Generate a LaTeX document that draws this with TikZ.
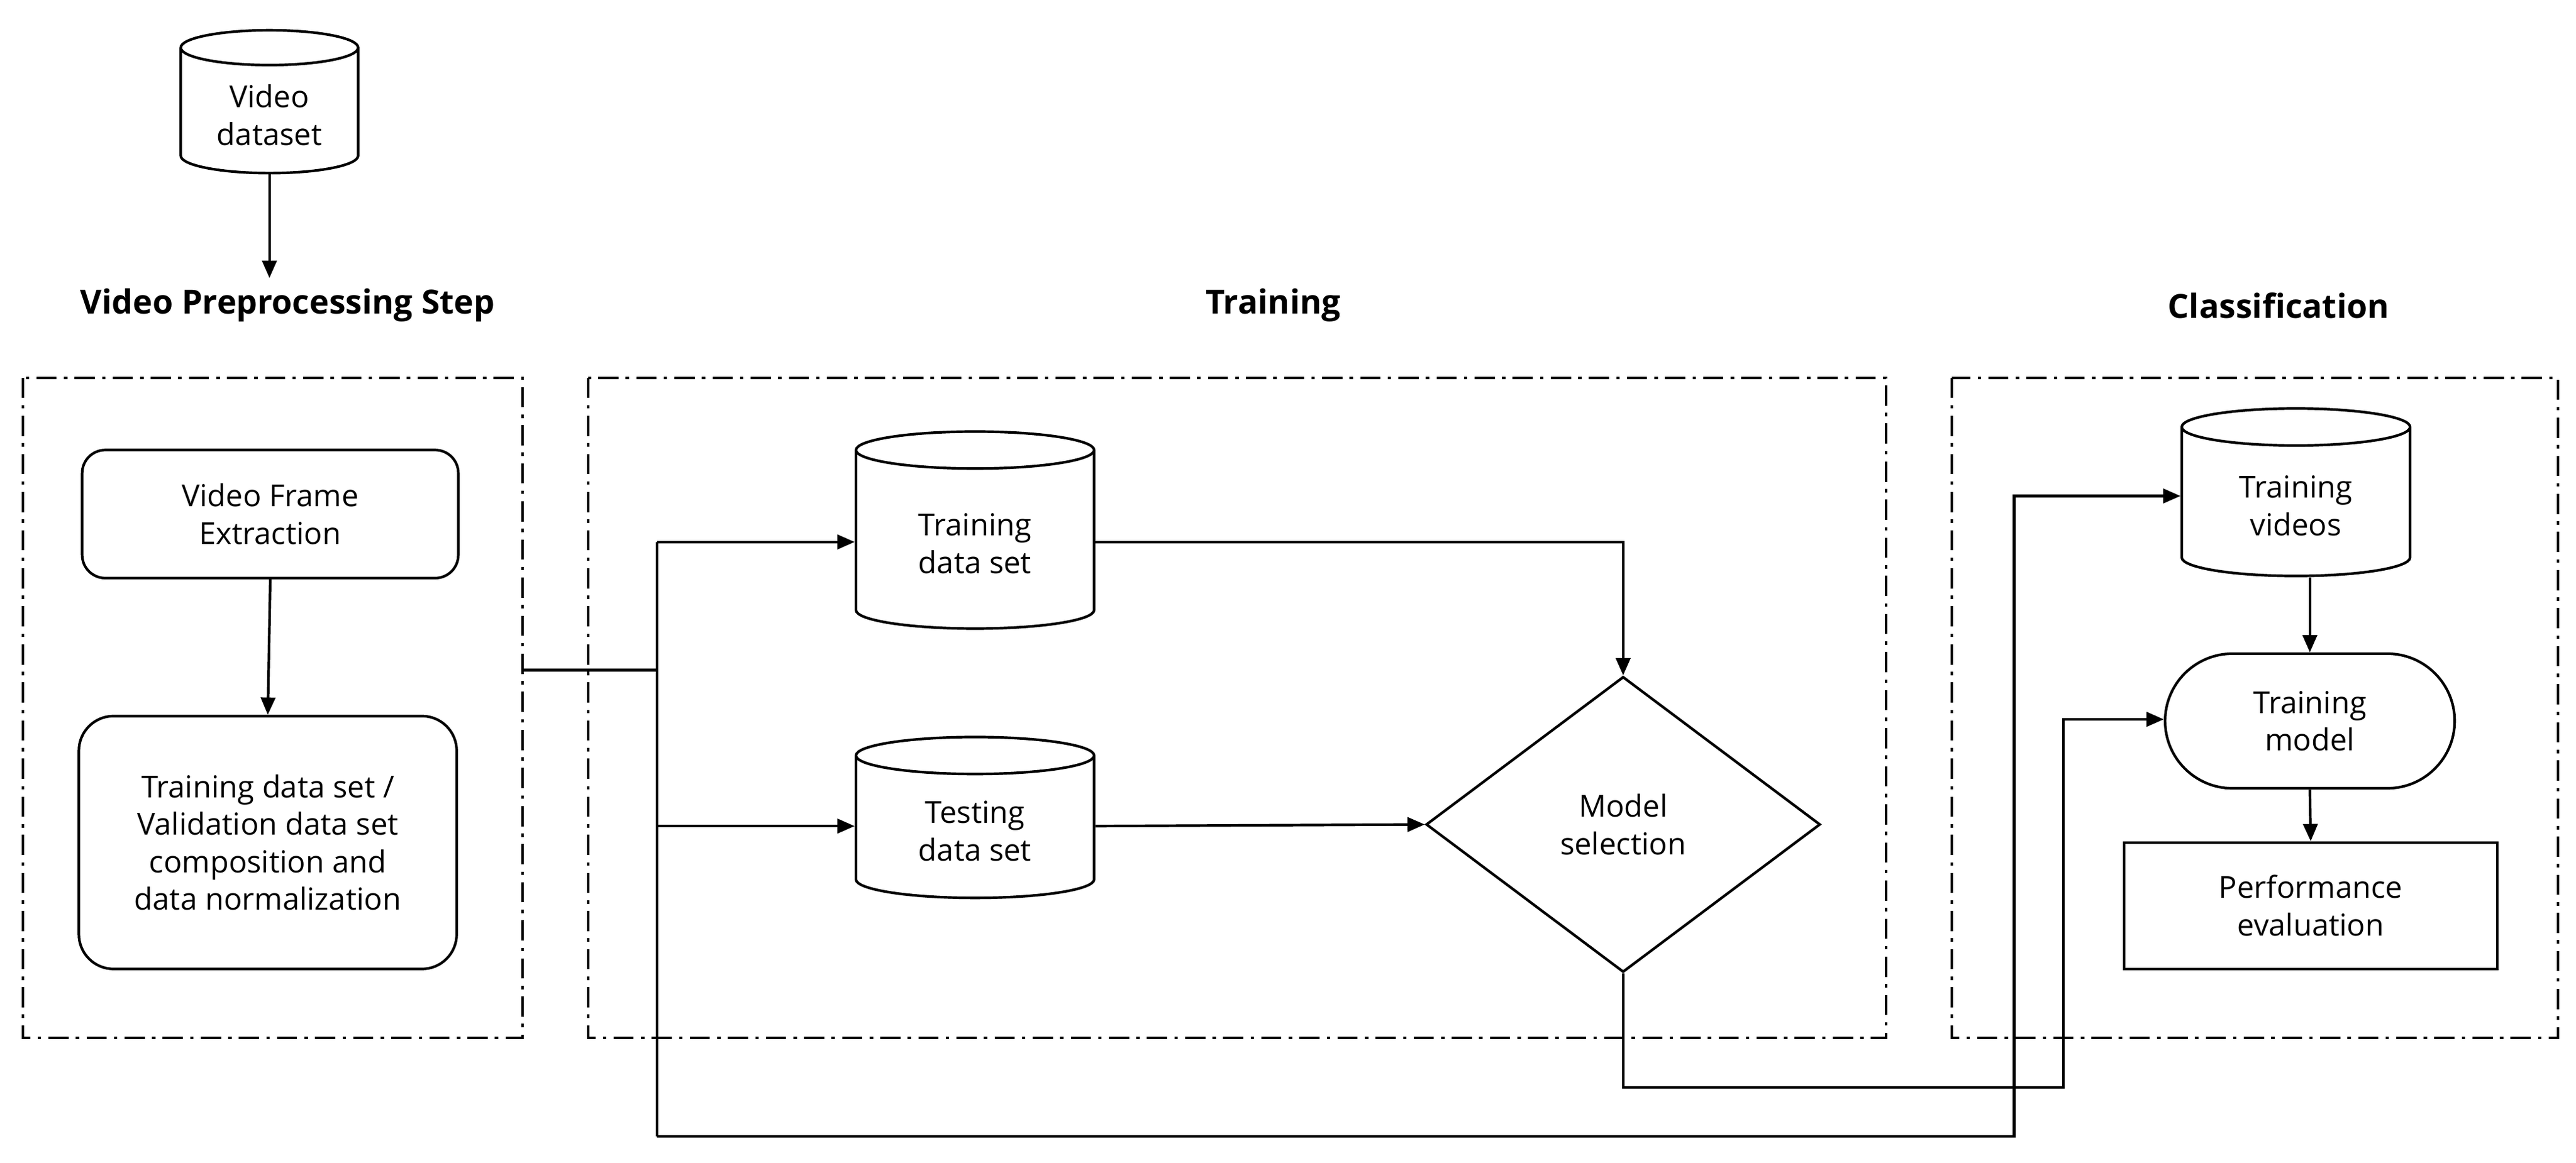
\documentclass[tikz,border=0pt]{standalone}
\usepackage{fontspec}
\setmainfont{Open Sans}
\usetikzlibrary{shapes.geometric,shapes.misc,arrows.meta}
\begin{document}
\begin{tikzpicture}[x=0.02cm,y=-0.02cm,font=\fontsize{10.5}{13}\selectfont,
  line width=0.9pt,
  >={Triangle[length=6pt,width=5pt]},
  db/.style={draw,cylinder,shape border rotate=90,aspect=0.28,align=center,minimum width=#1},
  rbox/.style={draw,rounded corners=8pt,align=center},
  grp/.style={draw,line width=0.8pt,dash pattern=on 7pt off 2.5pt on 1.2pt off 2.5pt},
  ttl/.style={font=\fontsize{11.5}{14}\selectfont\bfseries}]
\useasboundingbox (0,0) rectangle (1568,708);
\node[db=2.16cm,minimum height=1.74cm] (vd) at (164,70) {Video\\dataset};
\node[ttl] (t1) at (175,186) {Video Preprocessing Step};
\node[ttl] (t2) at (775,186) {Training};
\node[ttl] (t3) at (1387,186) {Classification};
\draw[->] (vd.south) -- (t1.north-|vd.south);
\draw[grp] (14,230) rectangle (318,632);
\draw[grp] (358,230) rectangle (1148,632);
\draw[grp] (1188,230) rectangle (1557,632);
\node[rbox,minimum width=4.58cm,minimum height=1.56cm] (vfe) at (164.5,313) {Video Frame\\Extraction};
\node[rbox,rounded corners=12pt,minimum width=4.6cm,minimum height=3.08cm] (tds) at (163,513) {Training data set /\\Validation data set\\composition and\\data normalization};
\draw[->] (vfe.south) -- (tds.north);
\node[db=2.9cm,minimum height=2.4cm] (trd) at (593.5,331) {Training\\data set};
\node[db=2.9cm,minimum height=1.96cm] (ted) at (593.5,506) {Testing\\data set};
\node[draw,diamond,minimum width=4.8cm,minimum height=3.6cm,inner sep=0pt,align=center] (ms) at (988,502) {Model\\selection};
\coordinate (j0) at (318,408);
\coordinate (j1) at (400,408);
\coordinate (j2) at (400,330);
\coordinate (j3) at (400,503);
\coordinate (j4) at (400,692);
\draw (j0) -- (j1);
\draw (j2) -- (j4);
\draw[->] (j2) -- (trd.west|-j2);
\draw[->] (j3) -- (ted.west|-j3);
\draw[->] (trd.east|-j2) -| (ms.north);
\draw[->] (ted.east|-j3) -- (ms.west);
\node[db=2.78cm,minimum height=2.04cm] (tv) at (1397.5,308) {Training\\videos};
\node[draw,rounded rectangle,minimum width=3.76cm,minimum height=1.64cm,align=center] (tm) at (1406,439) {Training\\model};
\node[draw,minimum width=4.54cm,minimum height=1.54cm,align=center] (pe) at (1406.5,551.5) {Performance\\evaluation};
\draw[->] (tv.south-|tm.north) -- (tm.north);
\draw[->] (tm.south) -- (pe.north);
\draw[->] (ms.south) -- (988,662) -- (1256,662) -- (1256,438) -- (tm.west|-1256,438);
\draw[->] (j4) -- (1226,692) -- (1226,302) -- (tv.west|-1226,302);
\end{tikzpicture}
\end{document}
